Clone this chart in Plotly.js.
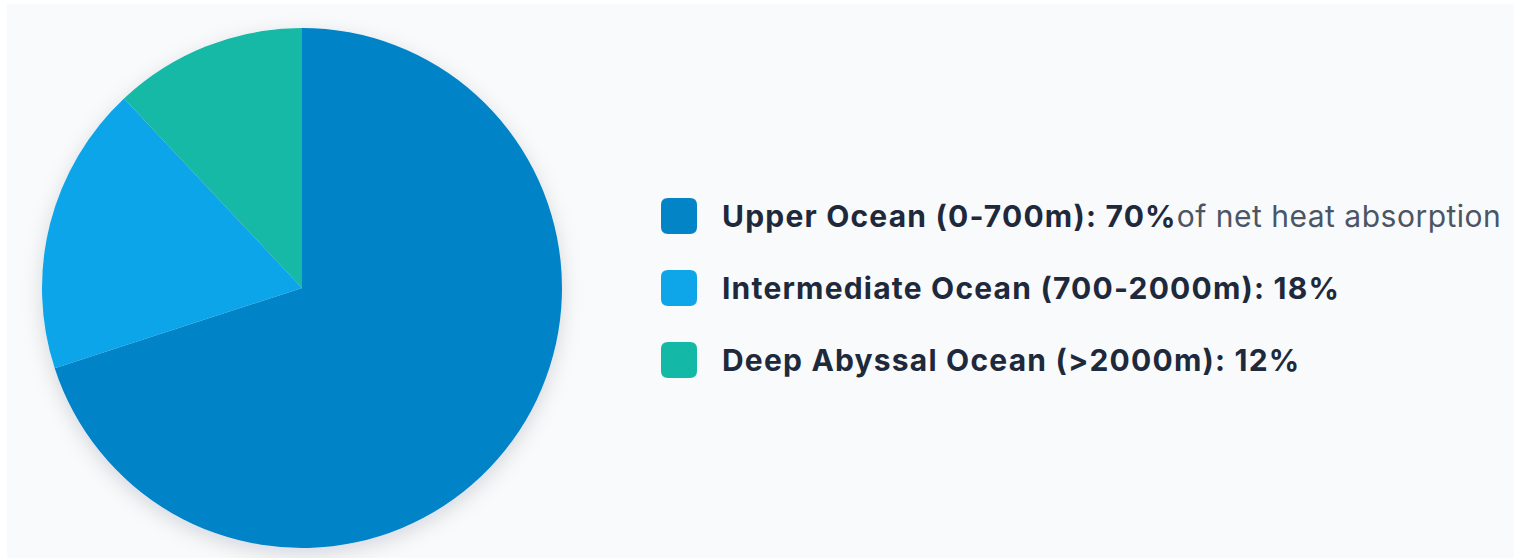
<!DOCTYPE html>
<html>
<head>
<meta charset="utf-8">
<script src="https://cdn.plot.ly/plotly-3.0.1.min.js"></script>
<style>
  html, body { margin: 0; padding: 0; background: #ffffff; width: 1514px; height: 558px; overflow: hidden; }
  #chart { position: absolute; left: 7px; top: 4px; width: 1507px; height: 554px; }
  .annotation-text { letter-spacing: 1.2px; }
</style>
</head>
<body>
<svg width="0" height="0" style="position:absolute">
  <defs>
    <filter id="pieShadow" x="-20%" y="-20%" width="140%" height="140%">
      <feDropShadow dx="0" dy="6" stdDeviation="10" flood-color="#0f172a" flood-opacity="0.14"/>
    </filter>
  </defs>
</svg>
<div id="chart"></div>
<script>
// ---- data ----
const labels = ["Upper Ocean (0-700m)", "Intermediate Ocean (700-2000m)", "Deep Abyssal Ocean (>2000m)"];
const values = [70, 18, 12];
const notes = ["of net heat absorption", "", ""];
const colors = ["#0284c7", "#0ea5e9", "#14b8a6"];

// ---- layout helpers ----
const W = 1507, H = 554;
const px = x => (x - 7) / W;
const py = y => 1 - (y - 4) / H;

function roundRect(size, r) {
  const h = size / 2;
  return `M${-h + r},${-h} L${h - r},${-h} Q${h},${-h} ${h},${-h + r} L${h},${h - r} Q${h},${h} ${h - r},${h} ` +
         `L${-h + r},${h} Q${-h},${h} ${-h},${h - r} L${-h},${-h + r} Q${-h},${-h} ${-h + r},${-h} Z`;
}

const rowY = [216, 288, 360];

const annotations = labels.map((lab, i) => ({
  xref: "paper", yref: "paper",
  x: px(720), y: py(rowY[i]),
  xanchor: "left", yanchor: "middle",
  showarrow: false,
  align: "left",
  text: "<b>" + lab.replace(">", "&gt;") + ": " + values[i] + "%</b>" +
        (notes[i] ? "<span style='color:#4b5563;font-weight:400;letter-spacing:0.5px'>" + notes[i] + "</span>" : ""),
  font: { family: "Inter, 'Open Sans', sans-serif", size: 30, color: "#1e293b" }
}));

const shapes = labels.map((lab, i) => ({
  type: "path",
  xref: "paper", yref: "paper",
  xsizemode: "pixel", ysizemode: "pixel",
  xanchor: px(679), yanchor: py(rowY[i]),
  path: roundRect(36, 7),
  fillcolor: colors[i],
  line: { width: 0 }
}));

const trace = {
  type: "pie",
  labels: labels,
  values: values,
  sort: false,
  direction: "clockwise",
  rotation: 0,
  textinfo: "none",
  hoverinfo: "label+percent",
  marker: { colors: colors, line: { width: 0 } },
  domain: { x: [px(42), px(562)], y: [py(548), py(28)] },
  showlegend: false
};

const layout = {
  width: W, height: H,
  margin: { l: 0, r: 0, t: 0, b: 0 },
  paper_bgcolor: "#f8fafc",
  plot_bgcolor: "#f8fafc",
  showlegend: false,
  annotations: annotations,
  shapes: shapes
};

Plotly.newPlot("chart", [trace], layout, { displayModeBar: false, staticPlot: true }).then(() => {
  document.querySelectorAll(".pielayer .trace").forEach(g => g.setAttribute("filter", "url(#pieShadow)"));
});
</script>
</body>
</html>
